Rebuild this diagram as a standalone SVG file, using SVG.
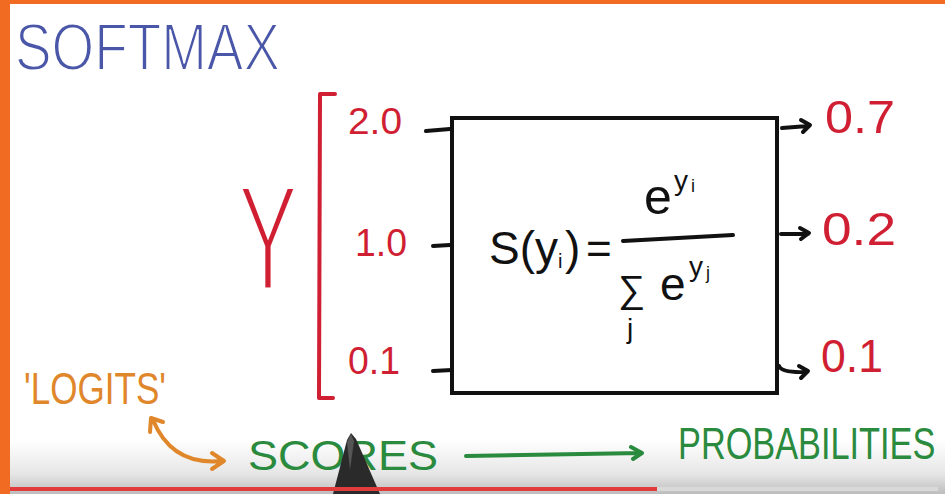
<svg xmlns="http://www.w3.org/2000/svg" width="945" height="494" viewBox="0 0 945 494">
<defs>
<style>
.t{font-family:"Liberation Sans","DejaVu Sans",sans-serif}
.red{fill:#d01f33}
.blue{fill:#4a56a8}
.org{fill:#e0862b}
.grn{fill:#2a8a3e}
.blk{fill:#111}
.thin{stroke:#ffffff;stroke-width:2}
.rs{stroke:#d01f33;fill:none;stroke-width:4;stroke-linecap:round;stroke-linejoin:round}
.ks{stroke:#111;fill:none;stroke-width:4;stroke-linecap:round;stroke-linejoin:round}
.gs{stroke:#2a8a3e;fill:none;stroke-width:4;stroke-linecap:round;stroke-linejoin:round}
.os{stroke:#e0862b;fill:none;stroke-width:4;stroke-linecap:round;stroke-linejoin:round}
</style>
<linearGradient id="fade" x1="0" y1="0" x2="0" y2="1">
<stop offset="0" stop-color="#e6e6e6" stop-opacity="1"/>
<stop offset="1" stop-color="#bdbdbd" stop-opacity="1"/>
</linearGradient>
<linearGradient id="fadeTop" x1="0" y1="0" x2="0" y2="1">
<stop offset="0" stop-color="#ffffff"/>
<stop offset="1" stop-color="#e6e6e6"/>
</linearGradient>
</defs>
<rect x="0" y="0" width="945" height="494" fill="#ffffff"/>
<rect x="10" y="440" width="935" height="34" fill="url(#fadeTop)"/>
<rect x="10" y="474" width="935" height="20" fill="url(#fade)"/>
<rect x="0" y="0" width="945" height="4" fill="#f26b22"/>
<rect x="0" y="0" width="10" height="494" fill="#f26b22"/>

<g id="title">
<text class="t blue thin" x="15" y="70" font-size="66" textLength="265" lengthAdjust="spacingAndGlyphs">SOFTMAX</text>
</g>

<g id="y-label">
<text class="t red" x="238" y="290" font-size="150" textLength="60" lengthAdjust="spacingAndGlyphs" stroke="#ffffff" stroke-width="5">Y</text>
<path class="rs" d="M335,94 L320,94 L319,398 L333,398"/>
</g>

<g id="inputs">
<text class="t red" x="348" y="134" font-size="36" textLength="54" lengthAdjust="spacingAndGlyphs">2.0</text>
<text class="t red" x="355" y="256" font-size="38" textLength="52" lengthAdjust="spacingAndGlyphs">1.0</text>
<text class="t red" x="348" y="374" font-size="38" textLength="52" lengthAdjust="spacingAndGlyphs">0.1</text>
</g>

<g id="softmax-box">
<rect x="452" y="118" width="325" height="275" fill="none" stroke="#111" stroke-width="4"/>
<text class="t blk" x="489" y="264" font-size="46">S(y</text>
<text class="t blk" x="558" y="268" font-size="20">i</text>
<text class="t blk" x="565" y="264" font-size="46">)</text>
<text class="t blk" x="586" y="264" font-size="44">=</text>
<text class="t blk" x="644" y="214" font-size="50">e</text>
<text class="t blk" x="674" y="190" font-size="28">y</text>
<text class="t blk" x="691" y="192" font-size="18">i</text>
<path class="ks" d="M623,241 L733,235" stroke-width="3.5"/>
<text class="t blk" x="618" y="302" font-size="38">∑</text>
<text class="t blk" x="627" y="338" font-size="28">j</text>
<text class="t blk" x="660" y="300" font-size="46">e</text>
<text class="t blk" x="689" y="276" font-size="28">y</text>
<text class="t blk" x="706" y="279" font-size="18">j</text>
</g>

<g id="outputs">
<text class="t red" x="825" y="133" font-size="46" textLength="70" lengthAdjust="spacingAndGlyphs">0.7</text>
<text class="t red" x="822" y="245" font-size="46" textLength="74" lengthAdjust="spacingAndGlyphs">0.2</text>
<text class="t red" x="821" y="372" font-size="46" textLength="62" lengthAdjust="spacingAndGlyphs">0.1</text>
</g>

<g id="logits">
<text class="t org" x="24" y="404" font-size="44" textLength="142" lengthAdjust="spacingAndGlyphs">'LOGITS'</text>
</g>

<g id="scores">
<text class="t grn" x="248" y="470" font-size="42" textLength="190" lengthAdjust="spacingAndGlyphs">SCORES</text>
</g>

<g id="probabilities">
<text class="t grn" transform="translate(678,459) scale(0.78,1)" x="0" y="0" font-size="44">PROBABILITIES</text>
</g>

<g id="connectors">
<path class="ks" d="M426,131 L450,129"/>
<path class="ks" d="M433,246 L450,245"/>
<path class="ks" d="M433,371 L452,370"/>
<path class="ks" d="M782,128 L808,126 M801,120 L810,125 L803,132"/>
<path class="ks" d="M781,234 L808,234 M800,228 L809,233 L801,239"/>
<path class="ks" d="M779,366 Q782,373 806,372 M799,366 L808,371 L801,378"/>
<path class="gs" d="M466,456 L641,453 M631,447 L642,453 L633,459"/>
<path class="os" d="M153,420 Q172,466 222,461 M150,432 L151,418 L163,422 M212,453 L224,461 L212,469"/>
</g>

<g id="player-overlay">
<path d="M333,494 L347,440 L351,433 L356,439 L380,494 Z" fill="#2a2a2a"/>
<path d="M347,442 L351,434 L354,441 L350,470 Z" fill="#555"/>
<rect x="10" y="487" width="647" height="4" fill="#e23b3b"/>
<rect x="657" y="487" width="281" height="4" fill="#d9d9d9"/>
</g>
</svg>
